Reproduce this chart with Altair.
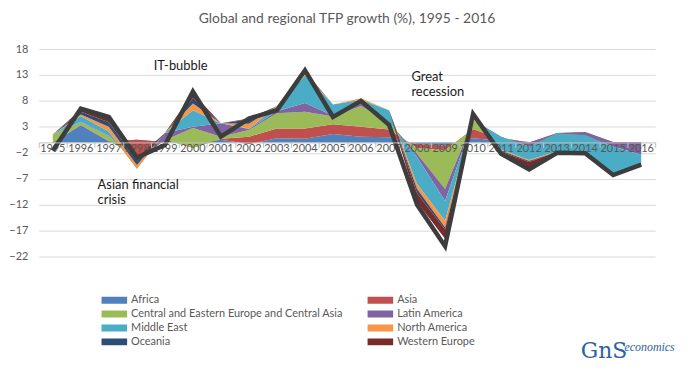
import altair as alt
import pandas as pd

years = list(range(1995, 2017))
regions = ["Africa", "Asia", "Central and Eastern Europe and Central Asia", "Latin America",
           "Middle East", "North America", "Oceania", "Western Europe"]
colors = ["#4F81BD", "#C0504D", "#9BBB59", "#8064A2", "#4BACC6", "#F79646", "#2C4D75", "#772C2A"]

africa  = [0.0, 3.3, 0.2, 0.5, 0.1, -0.1, 0.5, -0.3, 0.8, 0.7, 1.6, 1.1, 1.0, -0.3, -0.6, 0.8, 0.3, 0.1, 0.2, 0.2, 0.0, 0.0]
asia    = [-0.1, 0.1, 0.1, -3.3, 0.5, -1.0, 0.2, 1.4, 1.9, 2.0, 1.9, 1.9, 1.5, -0.8, -0.9, 1.8, 0.3, 0.0, 0.3, 0.4, 0.1, 0.1]
cee     = [1.6, 0.5, 0.9, -0.5, -0.2, 3.9, 0.4, 1.3, 2.9, 3.2, 1.5, 4.0, 1.3, -1.1, -7.5, 1.6, 0.3, -0.1, 1.3, 1.4, 0.0, 0.0]
latam   = [0.0, 0.1, 0.1, -0.5, 1.4, 0.2, 2.6, 0.2, 0.4, 1.7, 0.2, 0.7, 0.1, -0.6, -2.3, 0.1, 0.2, -0.8, -0.1, -0.6, -0.9, -2.5]
mideast = [0.0, 1.1, 0.8, -1.3, 0.0, 3.2, 0.0, 0.1, 0.9, 5.3, 2.1, 0.5, 2.3, -5.2, -3.8, 0.2, -2.5, -2.6, -3.4, -3.1, -5.5, -1.8]
namer   = [0.0, 0.3, 0.9, 0.8, 0.0, 1.3, 0.0, 0.9, 0.1, 0.4, 0.0, 0.3, 0.0, -1.0, -1.3, 0.3, -0.2, -0.2, -0.1, -0.1, -0.1, -0.1]
oceania = [0.0, 0.5, 0.9, 0.7, 0.0, 1.0, 0.0, 0.8, 0.0, 0.2, 0.0, 0.0, 0.0, -0.8, -0.4, 0.2, -0.2, -0.2, 0.0, -0.1, 0.0, 0.0]
weurope = [0.0, 0.4, 0.8, 0.6, 0.0, 1.0, 0.0, 0.2, 0.0, 0.2, 0.0, 0.0, 0.0, -1.7, -1.8, 0.3, -0.7, -1.1, -0.1, -0.1, -0.1, -0.1]
global_tfp = [-1.6, 6.5, 4.9, -2.9, -0.5, 9.8, 1.1, 4.6, 6.2, 13.9, 4.9, 8.0, 3.4, -12.0, -20.0, 5.5, -2.2, -5.2, -2.0, -2.1, -6.3, -4.3]

y_ticks = [-22, -17, -12, -7, -2, 3, 8, 13, 18]

ann_text = ["IT-bubble", "Asian financial", "crisis", "Great", "recession"]
ann_year = [1998.6, 1996.6, 1996.6, 2007.8, 2007.8]
ann_val = [14.8, -8.3, -11.2, 12.7, 9.8]

series = [africa, asia, cee, latam, mideast, namer, oceania, weurope]
rows = []
for k, (name, vals) in enumerate(zip(regions, series)):
    for yr, v in zip(years, vals):
        rows.append({"year": yr, "region": name, "order": k, "value": v})
df = pd.DataFrame(rows)
gdf = pd.DataFrame({"year": years, "global": global_tfp})
adf = pd.DataFrame({"year": ann_year, "v": ann_val, "text": ann_text})
ldf = pd.DataFrame({"year": years, "zero": [0] * len(years), "label": [str(y) for y in years]})

W, H = 621, 209
ymin, ymax = -22, 18
zero_px = (ymax - 0) / (ymax - ymin) * H

xscale = alt.Scale(domain=[1994.5, 2016.5], nice=False, zero=False)
yscale = alt.Scale(domain=[ymin, ymax], nice=False, zero=False)

x_axis = alt.Axis(
    values=[1994.5 + i for i in range(23)], tickCount=60, labels=False,
    grid=False, domainColor="#BFBFBF", tickColor="#BFBFBF", tickSize=5,
    offset=-(H - zero_px), title=None, zindex=1,
)
y_axis = alt.Axis(
    values=y_ticks, tickCount=40, grid=True, gridColor="#D9D9D9", domain=False, ticks=False,
    labelColor="#595959", labelFont="Lato", labelFontSize=11, labelPadding=11, title=None,
    labelOverlap=False, labelFlush=False, zindex=0,
)

areas = alt.Chart(df).transform_window(
    cum="sum(value)", frame=[None, 0], groupby=["year"], sort=[alt.SortField("order")]
).transform_calculate(
    prev="datum.cum - datum.value"
).mark_area(opacity=1).encode(
    x=alt.X("year:Q", scale=xscale, axis=x_axis),
    y=alt.Y("cum:Q", scale=yscale, axis=y_axis, stack=None),
    y2="prev:Q",
    color=alt.Color(
        "region:N", scale=alt.Scale(domain=regions, range=colors),
        legend=alt.Legend(
            title=None, orient="none", legendX=63, legendY=246, columns=2,
            direction="horizontal",
            columnPadding=24, rowPadding=0, clipHeight=14,
            symbolType="M-1,-0.27H1V0.27H-1Z", symbolSize=676, symbolStrokeWidth=0,
            labelFont="Lato", labelFontSize=11, labelColor="#595959", labelOffset=4,
            labelLimit=400,
        ),
    ),
    order=alt.Order("order:Q"),
)

year_labels = alt.Chart(ldf).mark_text(
    baseline="middle", align="center", dy=6.5, font="Lato", fontSize=11, color="#595959"
).encode(
    x=alt.X("year:Q", scale=xscale, axis=x_axis),
    y=alt.Y("zero:Q", scale=yscale, axis=y_axis),
    text="label:N",
)

line = alt.Chart(gdf).mark_line(color="#3d3d3d", strokeWidth=4.5, strokeJoin="miter").encode(
    x=alt.X("year:Q", scale=xscale, axis=x_axis),
    y=alt.Y("global:Q", scale=yscale, axis=y_axis),
)

ann = alt.Chart(adf).mark_text(
    align="left", baseline="middle", font="Lato", fontSize=13, color="#1a1a1a"
).encode(
    x=alt.X("year:Q", scale=xscale, axis=x_axis),
    y=alt.Y("v:Q", scale=yscale, axis=y_axis),
    text="text:N",
)

logo1 = alt.Chart(pd.DataFrame({"t": ["GnS"]})).mark_text(
    align="left", baseline="middle", font="DejaVu Serif", fontSize=22, color="#2a62a3"
).encode(x=alt.value(546), y=alt.value(304), text="t:N")
logo2 = alt.Chart(pd.DataFrame({"t": ["economics"]})).mark_text(
    align="left", baseline="middle", font="Liberation Serif", fontStyle="italic",
    fontSize=12, color="#2a62a3"
).encode(x=alt.value(590), y=alt.value(300), text="t:N")

chart = alt.layer(areas, year_labels, line, ann, logo1, logo2).properties(
    width=W, height=H,
    autosize=alt.AutoSizeParams(type="none"),
    padding={"left": 31, "top": 40, "right": 30, "bottom": 115},
    title=alt.TitleParams(
        "Global and regional TFP growth (%), 1995 - 2016", font="Lato", fontSize=14,
        fontWeight="normal", color="#595959", anchor="middle", frame="group", offset=17,
    ),
).configure_view(strokeWidth=0)

chart.save("out.html", embed_options={"renderer": "svg", "actions": False})
